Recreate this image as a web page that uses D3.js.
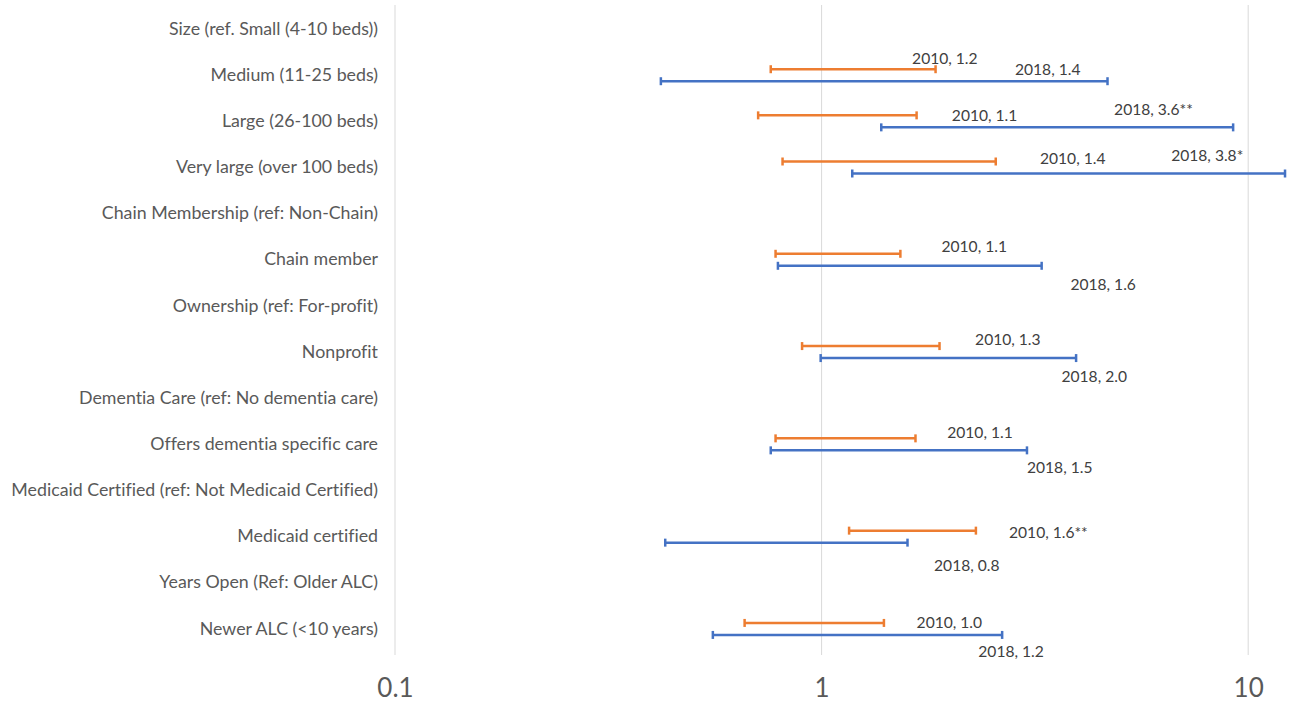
<!DOCTYPE html>
<html>
<head>
<meta charset="utf-8">
<script src="https://cdn.jsdelivr.net/npm/d3@7"></script>
<style>
  html, body { margin: 0; padding: 0; background: #ffffff; }
  svg { display: block; }
  text { font-variant-ligatures: none; }
</style>
</head>
<body>
<svg id="chart" width="1289" height="702"></svg>
<script>
// ---------- data ----------
const categories = [
  "Size (ref. Small (4-10 beds))",
  "Medium (11-25 beds)",
  "Large (26-100 beds)",
  "Very large (over 100 beds)",
  "Chain Membership (ref: Non-Chain)",
  "Chain member",
  "Ownership (ref: For-profit)",
  "Nonprofit",
  "Dementia Care (ref: No dementia care)",
  "Offers dementia specific care",
  "Medicaid Certified (ref: Not Medicaid Certified)",
  "Medicaid certified",
  "Years Open (Ref: Older ALC)",
  "Newer ALC (<10 years)"
];
const series = ["2010", "2018"];
// odds ratio estimates and significance marks
const est2010 = [null, 1.2, 1.1, 1.4, null, 1.1, null, 1.3, null, 1.1, null, 1.6, null, 1.0];
const sig2010 = ["", "", "", "", "", "", "", "", "", "", "", "**", "", ""];
const est2018 = [null, 1.4, 3.6, 3.8, null, 1.6, null, 2.0, null, 1.5, null, 0.8, null, 1.2];
const sig2018 = ["", "", "**", "*", "", "", "", "", "", "", "", "", "", ""];
// 95% confidence intervals
const lo2010 = [null, 0.76, 0.71, 0.81, null, 0.78, null, 0.90, null, 0.78, null, 1.16, null, 0.66];
const hi2010 = [null, 1.85, 1.67, 2.56, null, 1.53, null, 1.89, null, 1.66, null, 2.30, null, 1.40];
const lo2018 = [null, 0.42, 1.38, 1.18, null, 0.79, null, 0.995, null, 0.76, null, 0.43, null, 0.556];
const hi2018 = [null, 4.68, 9.22, 12.2, null, 3.28, null, 3.95, null, 3.03, null, 1.59, null, 2.65];
// where each data label begins, in axis (odds ratio) units
const labelAt2010 = [null, 1.63, 2.02, 3.25, null, 1.91, null, 2.29, null, 1.97, null, 2.75, null, 1.67];
const labelAt2018 = [null, 2.84, 4.85, 6.60, null, 3.83, null, 3.65, null, 3.03, null, 1.835, null, 2.33];
const tickValues = [0.1, 1, 10];
const tickLabels = ["0.1", "1", "10"];

// ---------- layout ----------
const colors = { "2010": "#ED7D31", "2018": "#4472C4" };
const svg = d3.select("#chart");
const fontFam = "Lato, 'Open Sans', sans-serif";
const textColor = "#595959";

const x = d3.scaleLog().domain([0.1, 12.6]).range([395, 1291]);
const y = d3.scaleBand().domain(categories).range([6, 652]);
const rowC = c => y(c) + y.bandwidth() / 2;
const seriesOffset = { "2010": -6, "2018": 6 };
const labelDy2010 = [0, -17, -5.4, -9.2, 0, -12.8, 0, -12.1, 0, -11.7, 0, -4.3, 0, -6.6];
const labelDy2018 = [0, -6, -11.4, -11.5, 0, 25.2, 0, 24.6, 0, 22.9, 0, 29.1, 0, 23];

// gridlines
const gTop = 5, gBot = 655;
svg.append("g").selectAll("line")
  .data(tickValues)
  .join("line")
  .attr("x1", d => x(d)).attr("x2", d => x(d))
  .attr("y1", gTop).attr("y2", gBot)
  .attr("stroke", "#d9d9d9")
  .attr("stroke-width", 1);

// x axis tick labels
const xAxis = d3.axisBottom(x)
  .tickValues(tickValues)
  .tickFormat((d, i) => tickLabels[i])
  .tickSize(0)
  .tickPadding(0);
const gx = svg.append("g").attr("transform", "translate(0,679)").call(xAxis);
gx.select(".domain").remove();
gx.selectAll("text")
  .attr("font-family", fontFam)
  .attr("font-size", 26)
  .attr("fill", textColor)
  .attr("dy", "0.71em");

// y axis category labels
const yAxis = d3.axisLeft(y).tickSize(0).tickPadding(0);
const gy = svg.append("g").attr("transform", "translate(378,0)").call(yAxis);
gy.select(".domain").remove();
gy.selectAll("text")
  .attr("font-family", fontFam)
  .attr("font-size", 17.8)
  .attr("fill", textColor);

// build interval records
const recs = [];
categories.forEach((c, i) => {
  if (lo2010[i] != null) recs.push({ c, s: "2010", lo: lo2010[i], hi: hi2010[i], est: est2010[i], sig: sig2010[i], lx: labelAt2010[i], ldy: labelDy2010[i] });
  if (lo2018[i] != null) recs.push({ c, s: "2018", lo: lo2018[i], hi: hi2018[i], est: est2018[i], sig: sig2018[i], lx: labelAt2018[i], ldy: labelDy2018[i] });
});

const capH = 4;
const gBars = svg.append("g");
const bar = gBars.selectAll("g.ci").data(recs).join("g").attr("class", "ci");
bar.append("line")
  .attr("x1", d => x(d.lo)).attr("x2", d => x(d.hi))
  .attr("y1", d => rowC(d.c) + seriesOffset[d.s])
  .attr("y2", d => rowC(d.c) + seriesOffset[d.s])
  .attr("stroke", d => colors[d.s]).attr("stroke-width", 2.5);
bar.append("line")
  .attr("x1", d => x(d.lo)).attr("x2", d => x(d.lo))
  .attr("y1", d => rowC(d.c) + seriesOffset[d.s] - capH)
  .attr("y2", d => rowC(d.c) + seriesOffset[d.s] + capH)
  .attr("stroke", d => colors[d.s]).attr("stroke-width", 2.5);
bar.append("line")
  .attr("x1", d => x(d.hi)).attr("x2", d => x(d.hi))
  .attr("y1", d => rowC(d.c) + seriesOffset[d.s] - capH)
  .attr("y2", d => rowC(d.c) + seriesOffset[d.s] + capH)
  .attr("stroke", d => colors[d.s]).attr("stroke-width", 2.5);

// data labels
svg.append("g").selectAll("text").data(recs).join("text")
  .attr("x", d => x(d.lx))
  .attr("y", d => rowC(d.c) + d.ldy)
  .attr("dy", "0.35em")
  .attr("font-family", fontFam)
  .attr("font-size", 15.6)
  .attr("fill", "#404040")
  .text(d => `${d.s}, ${d.est.toFixed(1)}${d.sig}`);
</script>
</body>
</html>
